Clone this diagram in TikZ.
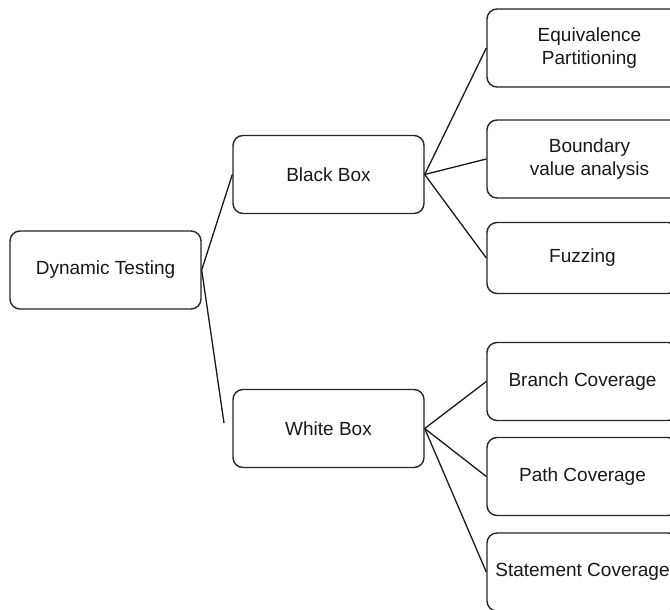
\documentclass[tikz,border=0pt]{standalone}
\usepackage{fontspec}
\setmainfont{Liberation Sans}
\begin{document}
\begin{tikzpicture}[x=1pt,y=-1pt,
  box/.style={draw=black!85, line width=1.4pt, rounded corners=10pt,
    minimum width=191pt, minimum height=78pt, inner sep=0pt,
    align=center, font=\fontsize{19}{23.5}\selectfont, text=black!90},
  widebox/.style={box, minimum width=205pt},
  link/.style={draw=black!90, line width=1.3pt}]
  % page frame, also clipping the boxes that run past the right edge
  \clip (0,0) rectangle (670,610);
  \fill[white] (0,0) rectangle (670,610);

  % root and its two branches
  \node[box] (dt) at (105.5,270) {Dynamic Testing};
  \node[box] (bb) at (328.5,174.5) {Black Box};
  \node[box] (wb) at (328.5,428.5) {White Box};
  \coordinate (wbend) at (224,423);

  % black box techniques
  \node[widebox] (ep) at (589.5,48) {Equivalence\\Partitioning};
  \node[widebox] (bv) at (589.5,159) {Boundary\\value analysis};
  \node[box, minimum height=71pt] (fz) at (582.5,258) {Fuzzing};

  % white box techniques
  \node[box] (bc) at (582.5,381.5) {Branch Coverage};
  \node[box] (pc) at (582.5,476.5) {Path Coverage};
  \node[box] (sc) at (582.5,572) {Statement Coverage};

  % connectors
  \draw[link] (dt.east) -- (bb.west);
  \draw[link] (dt.east) -- (wbend);
  \draw[link] (bb.east) -- (ep.west);
  \draw[link] (bb.east) -- (bv.west);
  \draw[link] (bb.east) -- (fz.west);
  \draw[link] (wb.east) -- (bc.west);
  \draw[link] (wb.east) -- (pc.west);
  \draw[link] (wb.east) -- (sc.west);
\end{tikzpicture}
\end{document}
